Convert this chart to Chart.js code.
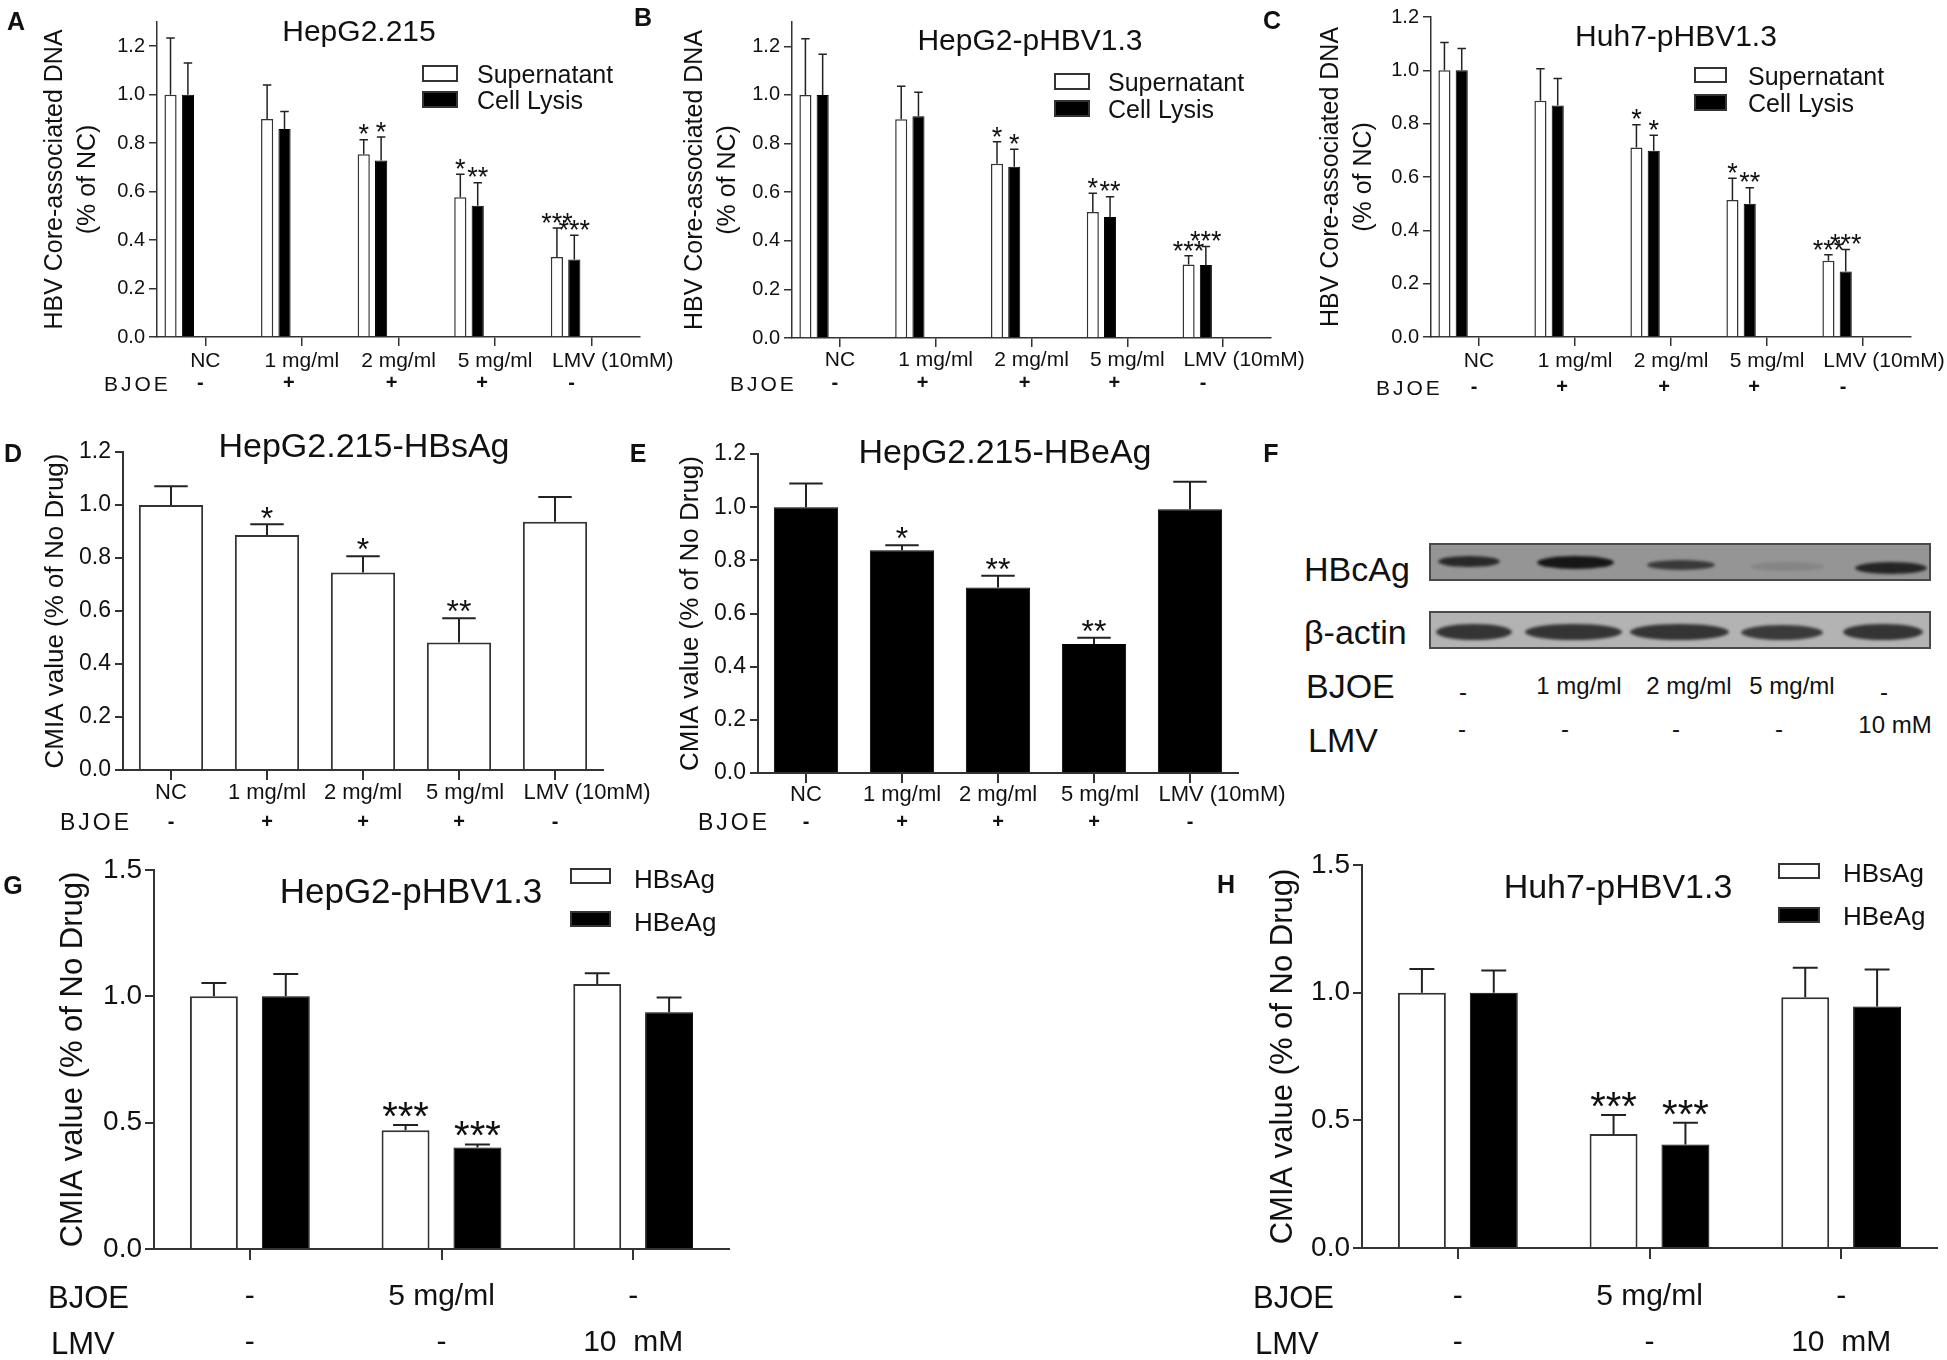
<!DOCTYPE html>
<html><head><meta charset="utf-8">
<script src="https://cdn.jsdelivr.net/npm/chart.js@4.4.1/dist/chart.umd.min.js"></script>
<style>
html,body{margin:0;padding:0;background:#fff;}
#stage{position:relative;width:1947px;height:1360px;overflow:hidden;background:#fff;font-family:'Liberation Sans',Arial,Helvetica,sans-serif;color:#111;}
.t{position:absolute;white-space:pre;line-height:1;}
.c{transform:translate(-50%,-50%);}
.l{transform:translate(0,-50%);}
.box{position:absolute;box-sizing:border-box;border:2px solid #333;}
.blot{position:absolute;box-sizing:border-box;border:2px solid #4a4a4a;overflow:hidden;}
.band{position:absolute;border-radius:50%;filter:blur(1.6px);}
</style></head><body><div id="stage"></div>
<script>
// ---------------- data ----------------
const catsABC = ['NC','1 mg/ml','2 mg/ml','5 mg/ml','LMV (10mM)'];
const bjoeABC = ['-','+','+','+','-'];
const yTicks12 = [0,0.2,0.4,0.6,0.8,1.0,1.2];
const yTicks15 = [0,0.5,1.0,1.5];

// A  HepG2.215
const aSup = [1.00,0.90,0.754,0.577,0.33];
const aSupErr = [0.234,0.14,0.06,0.095,0.12];
const aLys = [1.00,0.858,0.728,0.542,0.32];
const aLysErr = [0.131,0.073,0.097,0.095,0.10];
const aSupStars = ['','','*','*','***'];
const aLysStars = ['','','*','**','***'];
// B  HepG2-pHBV1.3
const bSup = [1.00,0.90,0.717,0.518,0.302];
const bSupErr = [0.231,0.136,0.09,0.078,0.036];
const bLys = [1.00,0.912,0.705,0.498,0.300];
const bLysErr = [0.167,0.099,0.071,0.083,0.076];
const bSupStars = ['','','*','*','***'];
const bLysStars = ['','','*','**','***'];
// C  Huh7-pHBV1.3
const cSup = [1.00,0.886,0.711,0.514,0.286];
const cSupErr = [0.104,0.12,0.085,0.081,0.022];
const cLys = [1.00,0.868,0.698,0.500,0.246];
const cLysErr = [0.082,0.101,0.059,0.060,0.082];
const cSupStars = ['','','*','*','***'];
const cLysStars = ['','','*','**','***'];
// D  HepG2.215-HBsAg
const dHBsAg = [1.00,0.887,0.745,0.481,0.937];
const dErr = [0.071,0.040,0.062,0.092,0.093];
const dStars = ['','*','*','**',''];
// E  HepG2.215-HBeAg
const eHBeAg = [1.00,0.838,0.698,0.485,0.992];
const eErr = [0.089,0.019,0.044,0.024,0.104];
const eStars = ['','*','**','**',''];
// G / H
const catsGH = ['NC','BJOE 5 mg/ml','LMV 10 mM'];
const bjoeGH = ['-','5 mg/ml','-'];
const lmvGH = ['-','-','10  mM'];
const gHBsAg = [1.00,0.470,1.049];
const gHBsAgErr = [0.053,0.021,0.042];
const gHBeAg = [1.00,0.402,0.937];
const gHBeAgErr = [0.088,0.012,0.058];
const gStars = ['','***',''];
const hHBsAg = [1.00,0.446,0.982];
const hHBsAgErr = [0.093,0.075,0.116];
const hHBeAg = [1.00,0.405,0.946];
const hHBeAgErr = [0.087,0.086,0.145];
const hStars = ['','***',''];
// F  western blot
const fLanesBJOE = ['-','1 mg/ml','2 mg/ml','5 mg/ml','-'];
const fLanesLMV = ['-','-','-','-','10 mM'];
const fHBcAg = [0.85,1.0,0.72,0.12,0.88];
const fActin = [1,1,1,0.95,1];

// ---------------- helpers ----------------
const FONT = "'Liberation Sans', Arial, Helvetica, sans-serif";
Chart.defaults.font.family = FONT;
Chart.defaults.color = '#111';
const stage = document.getElementById('stage');

const errorBarPlugin = {
  id: 'errbars',
  afterDatasetsDraw(chart, args, o) {
    const ctx = chart.ctx, ys = chart.scales.y;
    chart.data.datasets.forEach((ds, di) => {
      if (!ds.errors) return;
      const meta = chart.getDatasetMeta(di);
      meta.data.forEach((bar, i) => {
        const v = ds.data[i];
        if (v == null) return;
        const yTop = ys.getPixelForValue(v + ds.errors[i]);
        const cw = bar.width * o.cap;
        ctx.save();
        ctx.strokeStyle = '#222';
        ctx.lineWidth = o.lw;
        ctx.beginPath();
        ctx.moveTo(bar.x, bar.y); ctx.lineTo(bar.x, yTop);
        ctx.moveTo(bar.x - cw / 2, yTop); ctx.lineTo(bar.x + cw / 2, yTop);
        ctx.stroke();
        const s = ds.stars && ds.stars[i];
        if (s) {
          ctx.fillStyle = '#111';
          ctx.font = o.starSize + 'px ' + FONT;
          ctx.textAlign = 'center';
          ctx.textBaseline = 'alphabetic';
          ctx.fillText(s, bar.x, yTop + o.starSize * 0.1 + (o.starDy || 0));
        }
        ctx.restore();
      });
    });
  }
};

// text rows placed under each category of the x scale (tick labels and treatment rows)
const rowsPlugin = {
  id: 'rows',
  afterDraw(chart, args, o) {
    if (!o.rows) return;
    const ctx = chart.ctx, xs = chart.scales.x;
    o.rows.forEach(r => {
      ctx.save();
      ctx.font = r.font;
      ctx.fillStyle = '#111';
      ctx.textAlign = 'center';
      ctx.textBaseline = 'middle';
      r.items.forEach((t, i) => {
        const dx = Array.isArray(r.dx) ? r.dx[i] : (r.dx || 0);
        ctx.fillText(t, xs.getPixelForValue(i) + dx, r.y);
      });
      ctx.restore();
    });
  }
};

function panel(p) {
  const cv = document.createElement('canvas');
  cv.width = p.cw; cv.height = p.ch;
  cv.style.cssText = `position:absolute;left:${p.cx}px;top:${p.cy}px;width:${p.cw}px;height:${p.ch}px;`;
  stage.appendChild(cv);
  const yW = p.L - p.cx, xH = p.cy + p.ch - p.B;
  new Chart(cv, {
    type: 'bar',
    data: {labels: p.labels, datasets: p.datasets},
    options: {
      responsive: false, animation: false, devicePixelRatio: 1,
      layout: {padding: {left: 0, top: p.T - p.cy, right: p.cx + p.cw - p.R, bottom: 0}},
      datasets: {bar: {categoryPercentage: p.catPct, barPercentage: p.barPct}},
      plugins: {
        legend: {display:false}, tooltip: {enabled:false},
        errbars: p.err,
        rows: {rows: p.rows.map(r => Object.assign({}, r, {y: r.y - p.cy}))}
      },
      scales: {
        x: {
          type: 'category', offset: true,
          grid: {display:true, drawOnChartArea:false, drawTicks:true, tickLength:p.xTickLen, color:'#333', lineWidth:p.axisW, offset:false},
          border: {display:true, color:'#333', width:p.axisW},
          ticks: {autoSkip:false, maxRotation:0, minRotation:0, padding:2, font:{size:10}, callback: () => ''},
          afterFit: s => { s.height = xH; }
        },
        y: {
          min: 0, max: p.ymax,
          grid: {display:true, drawOnChartArea:false, drawTicks:true, tickLength:p.yTickLen, color:'#333', lineWidth:p.axisW},
          border: {display:true, color:'#333', width:p.axisW},
          ticks: {padding:p.yPad, color:'#111', font:{size:p.yFont}, callback: v => Number(v).toFixed(1)},
          afterBuildTicks: s => { s.ticks = p.yTicks.map(v => ({value: v})); },
          title: {display:true, text:p.yTitle, color:'#111', font:{size:p.yTitleFont, lineHeight:p.yTitleLH}, padding:{top:p.yTitlePad, bottom:0}},
          afterFit: s => { s.width = yW; }
        }
      }
    },
    plugins: [errorBarPlugin, rowsPlugin]
  });
}

function txt(s, x, y, size, o) {
  o = o || {};
  const d = document.createElement('div');
  d.className = 't ' + (o.left ? 'l' : 'c');
  d.textContent = s;
  d.style.left = x + 'px'; d.style.top = y + 'px'; d.style.fontSize = size + 'px';
  if (o.bold) d.style.fontWeight = 'bold';
  if (o.ls) d.style.letterSpacing = o.ls + 'px';
  stage.appendChild(d);
}
function box(x, y, w, h, fill) {
  const d = document.createElement('div');
  d.className = 'box';
  d.style.cssText += `left:${x}px;top:${y}px;width:${w}px;height:${h}px;background:${fill};`;
  stage.appendChild(d);
}
const spacer = () => ({label:'', data: catsABC.map(() => null), backgroundColor:'rgba(0,0,0,0)', borderWidth:0});
const white = (label, data, errors, stars, bw) => ({label, data, errors, stars, backgroundColor:'#fff', borderColor:'#333', borderWidth:bw});
const black = (label, data, errors, stars) => ({label, data, errors, stars, backgroundColor:'#000', borderColor:'#000', borderWidth:1});

const F21 = '21px ' + FONT, F22 = '22px ' + FONT, B20 = 'bold 20px ' + FONT, F30 = '30px ' + FONT;

// ---------------- row 1 : A, B, C ----------------
const rowABC = {labels: catsABC, ymax: 1.3, yTicks: yTicks12, catPct: 0.9, barPct: 0.7, axisW: 1.5,
  xTickLen: 9, yTickLen: 8, yPad: 4, yFont: 20,
  yTitle: ['HBV Core-associated DNA', '(% of NC)'], yTitleFont: 25, yTitleLH: 1.3,
  err: {cap: 0.7, lw: 1.5, starSize: 27, starDy: 1}};
const dxLab = [0, 0, 0, 0, 21];
const dxSym = [-5, -13, -7, -13, -20];

panel(Object.assign({}, rowABC, {cx:0, cy:0, cw:700, ch:420, L:157, R:640, T:22, B:337, yTitlePad:39,
  datasets:[white('Supernatant', aSup, aSupErr, aSupStars, 1.5), black('Cell Lysis', aLys, aLysErr, aLysStars), spacer(), spacer(), spacer()],
  rows:[{y:361, dx:dxLab, font:F21, items:catsABC}, {y:383, dx:dxSym, font:B20, items:bjoeABC}]}));
panel(Object.assign({}, rowABC, {cx:640, cy:0, cw:700, ch:420, L:792, R:1271, T:22, B:338, yTitlePad:39,
  datasets:[white('Supernatant', bSup, bSupErr, bSupStars, 1.5), black('Cell Lysis', bLys, bLysErr, bLysStars), spacer(), spacer(), spacer()],
  rows:[{y:360, dx:dxLab, font:F21, items:catsABC}, {y:383, dx:dxSym, font:B20, items:bjoeABC}]}));
panel(Object.assign({}, rowABC, {cx:1270, cy:0, cw:677, ch:420, L:1431, R:1911, T:17, B:337, ymax:1.2, yTitlePad:45,
  datasets:[white('Supernatant', cSup, cSupErr, cSupStars, 1.5), black('Cell Lysis', cLys, cLysErr, cLysStars), spacer(), spacer(), spacer()],
  rows:[{y:361, dx:dxLab, font:F21, items:catsABC}, {y:387, dx:dxSym, font:B20, items:bjoeABC}]}));

// ---------------- row 2 : D, E ----------------
const rowDE = {labels: catsABC, ymax: 1.2, yTicks: yTicks12, catPct: 1.0, barPct: 0.67, axisW: 2,
  xTickLen: 10, yTickLen: 8, yPad: 4, yFont: 23,
  yTitle: 'CMIA value (% of No Drug)', yTitleFont: 26, yTitleLH: 1.2,
  err: {cap: 0.52, lw: 2, starSize: 32, starDy: 1}};
const dxLabDE = [0, 0, 0, 6, 32];
panel(Object.assign({}, rowDE, {cx:0, cy:420, cw:660, ch:440, L:123, R:603, T:452, B:770, yTitlePad:40,
  datasets:[white('HBsAg', dHBsAg, dErr, dStars, 2)],
  rows:[{y:793, dx:dxLabDE, font:F22, items:catsABC}, {y:822, dx:0, font:B20, items:bjoeABC}]}));
panel(Object.assign({}, rowDE, {cx:630, cy:420, cw:660, ch:440, L:758, R:1238, T:454, B:773, yTitlePad:45,
  datasets:[black('HBeAg', eHBeAg, eErr, eStars)],
  rows:[{y:795, dx:dxLabDE, font:F22, items:catsABC}, {y:822, dx:0, font:B20, items:bjoeABC}]}));

// ---------------- row 3 : G, H ----------------
const rowGH = {labels: catsGH, ymax: 1.5, yTicks: yTicks15, catPct: 0.75, barPct: 0.667, axisW: 2,
  xTickLen: 11, yTickLen: 9, yPad: 3, yFont: 28,
  yTitle: 'CMIA value (% of No Drug)', yTitleFont: 31, yTitleLH: 1.2,
  err: {cap: 0.52, lw: 2, starSize: 40, starDy: 1}};
panel(Object.assign({}, rowGH, {cx:0, cy:850, cw:800, ch:510, L:154, R:729, T:870, B:1249, yTitlePad:55,
  datasets:[white('HBsAg', gHBsAg, gHBsAgErr, gStars, 2), black('HBeAg', gHBeAg, gHBeAgErr, gStars)],
  rows:[{y:1297, font:F30, items:bjoeGH}, {y:1343, font:F30, items:lmvGH}]}));
panel(Object.assign({}, rowGH, {cx:1200, cy:840, cw:747, ch:520, L:1362, R:1937, T:865, B:1248, yTitlePad:65,
  datasets:[white('HBsAg', hHBsAg, hHBsAgErr, hStars, 2), black('HBeAg', hHBeAg, hHBeAgErr, hStars)],
  rows:[{y:1297, font:F30, items:bjoeGH}, {y:1343, font:F30, items:lmvGH}]}));

// ---------------- text overlays ----------------
[['A',16,21],['B',643,17],['C',1272,20],['D',13,453],['E',638,453],['F',1271,453],['G',13,885],['H',1226,884]]
  .forEach(a => txt(a[0], a[1], a[2], 25, {bold:true}));

txt('HepG2.215', 359, 31, 30);
txt('HepG2-pHBV1.3', 1030, 40, 30);
txt('Huh7-pHBV1.3', 1676, 36, 30);
txt('HepG2.215-HBsAg', 364, 445, 34);
txt('HepG2.215-HBeAg', 1005, 451, 34);
txt('HepG2-pHBV1.3', 411, 890, 35);
txt('Huh7-pHBV1.3', 1618, 886, 34);

// legends
box(422, 65, 36, 17, '#fff'); box(422, 91, 36, 17, '#000');
txt('Supernatant', 477, 74, 25, {left:true}); txt('Cell Lysis', 477, 100, 25, {left:true});
box(1054, 73, 36, 17, '#fff'); box(1054, 100, 36, 17, '#000');
txt('Supernatant', 1108, 82, 25, {left:true}); txt('Cell Lysis', 1108, 109, 25, {left:true});
box(1694, 67, 33, 16, '#fff'); box(1694, 94, 33, 17, '#000');
txt('Supernatant', 1748, 76, 25, {left:true}); txt('Cell Lysis', 1748, 103, 25, {left:true});
box(570, 868, 41, 16, '#fff'); box(570, 911, 41, 16, '#000');
txt('HBsAg', 634, 879, 26, {left:true}); txt('HBeAg', 634, 922, 26, {left:true});
box(1778, 863, 42, 16, '#fff'); box(1778, 907, 42, 16, '#000');
txt('HBsAg', 1843, 873, 26, {left:true}); txt('HBeAg', 1843, 916, 26, {left:true});

// row labels
txt('BJOE', 104, 383, 21, {left:true, ls:3});
txt('BJOE', 730, 383, 21, {left:true, ls:3});
txt('BJOE', 1376, 387, 21, {left:true, ls:3});
txt('BJOE', 60, 822, 23, {left:true, ls:3});
txt('BJOE', 698, 822, 23, {left:true, ls:3});
txt('BJOE', 48, 1297, 31, {left:true});
txt('LMV', 51, 1343, 31, {left:true});
txt('BJOE', 1253, 1297, 31, {left:true});
txt('LMV', 1255, 1343, 31, {left:true});

// ---------------- F : western blot ----------------
function blot(x, y, w, h, bg, lanes, inten, color) {
  const d = document.createElement('div');
  d.className = 'blot';
  d.style.cssText += `left:${x}px;top:${y}px;width:${w}px;height:${h}px;background:${bg};`;
  lanes.forEach((ln, i) => {
    const b = document.createElement('div');
    b.className = 'band';
    b.style.cssText += `left:${ln[0] - x}px;top:${ln[2] - y - ln[3] / 2}px;width:${ln[1] - ln[0]}px;height:${ln[3]}px;background:${color};opacity:${inten[i]};`;
    d.appendChild(b);
  });
  stage.appendChild(d);
}
blot(1429, 543, 502, 38, '#959595',
  [[1436,1498,559,11],[1535,1612,560,13],[1645,1713,563,10],[1748,1822,564,9],[1853,1925,566,12]], fHBcAg, '#161616');
blot(1429, 611, 502, 38, '#b3b3b3',
  [[1434,1510,630,16],[1523,1620,630,16],[1628,1727,630,16],[1739,1821,630,15],[1841,1921,630,16]], fActin, '#343434');
txt('HBcAg', 1304, 569, 34, {left:true});
txt('β-actin', 1304, 632, 34, {left:true});
txt('BJOE', 1306, 686, 34, {left:true});
txt('LMV', 1308, 740, 34, {left:true});
const fX = [1463, 1579, 1689, 1792, 1884];
fLanesBJOE.forEach((s, i) => txt(s, fX[i], s === '-' ? 692 : 686, 24));
const fX2 = [1462, 1565, 1676, 1779, 1895];
fLanesLMV.forEach((s, i) => txt(s, fX2[i], s === '-' ? 729 : 725, 24));
</script></body></html>
